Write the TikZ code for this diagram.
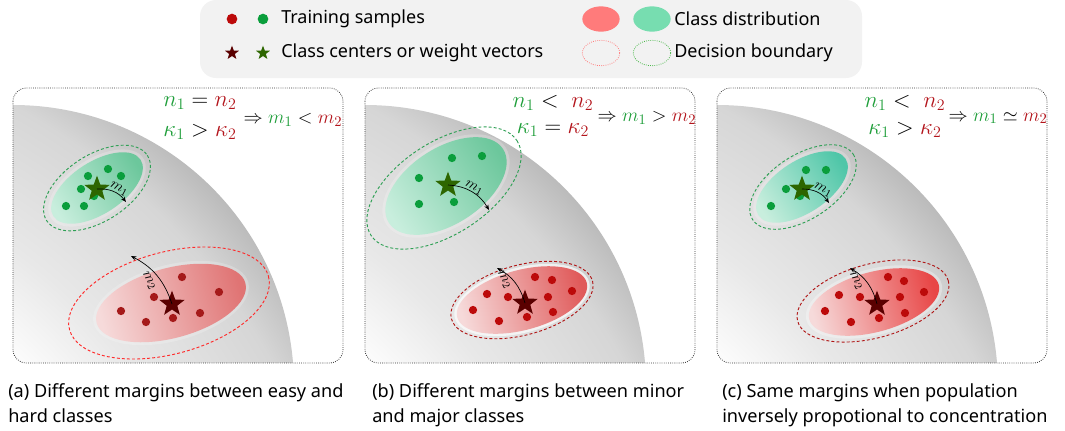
\documentclass[tikz,border=0pt]{standalone}
\usepackage{fontspec}
\setmainfont{Noto Sans}
\usetikzlibrary{shapes.geometric,arrows.meta}
\definecolor{legbg}{HTML}{F2F2F2}
\definecolor{gdot}{HTML}{0A9E3C}
\definecolor{rdot}{HTML}{BC0A0A}
\definecolor{rdota}{HTML}{A51A1A}
\definecolor{gstar}{HTML}{2D6600}
\definecolor{rstar}{HTML}{5A0000}
\definecolor{gtext}{HTML}{1F9E3A}
\definecolor{rtext}{HTML}{B3141B}
\definecolor{legred}{HTML}{FF7B7B}
\definecolor{leggreen}{HTML}{77DDB0}
\definecolor{glt}{HTML}{C8EEDD}
\definecolor{gdk}{HTML}{6CC79C}
\definecolor{gdkc}{HTML}{4FC6A8}
\definecolor{rlt}{HTML}{F6DADA}
\definecolor{rdk}{HTML}{E07474}
\definecolor{rdkb}{HTML}{E05A5A}
\definecolor{rdkc}{HTML}{E84646}
\definecolor{gbound}{HTML}{2FA055}
\definecolor{rbounda}{HTML}{FF2A2A}
\definecolor{rboundb}{HTML}{B01515}
\definecolor{gy0}{HTML}{FFFFFF}
\definecolor{gy1}{HTML}{E8E8E8}
\definecolor{gy2}{HTML}{D6D6D6}
\definecolor{gy3}{HTML}{CBCBCB}
\definecolor{gy4}{HTML}{B6B6B6}
\pgfdeclareradialshading{grayrad}{\pgfpoint{0bp}{0bp}}{color(0bp)=(gy0); color(15.2bp)=(gy0); color(18.5bp)=(gy1); color(22.7bp)=(gy2); color(23.5bp)=(gy3); color(25bp)=(gy4); color(50bp)=(gy4)}
\newcommand{\gr}[1]{{\color{gtext}#1}}
\newcommand{\rd}[1]{{\color{rtext}#1}}
\begin{document}
\begin{tikzpicture}[x=0.75pt,y=-0.75pt,
  txt/.style={font=\fontsize{13.5}{16}\selectfont, inner sep=0pt},
  captext/.style={font=\fontsize{13.6}{18.75}\selectfont, align=left, inner sep=0pt, anchor=north west},
  dot/.style={circle, fill=#1, draw=none, inner sep=0pt, minimum size=6.2pt},
  bigstar/.style={star, star points=5, star point ratio=2.4, fill=#1, draw=none, inner sep=0pt, minimum size=20pt},
  smallstar/.style={star, star points=5, star point ratio=2.4, fill=#1, draw=none, inner sep=0pt, minimum size=11pt},
  panelframe/.style={draw=black!80, densely dotted, line width=0.6pt, rounded corners=10pt},
  bound/.style={draw=#1, dash pattern=on 2.2pt off 1.6pt, line width=0.7pt},
  halo/.style={fill=white, opacity=0.2, draw=none},
  marg/.style={-{Stealth[length=4pt,width=3.2pt]}, line width=0.5pt, black},
  mlab/.style={inner sep=0pt, font=\fontsize{11}{12}\selectfont},
  bigf/.style={inner sep=0pt, font=\fontsize{18.5}{20}\selectfont},
  smf/.style={inner sep=0pt, font=\fontsize{15.8}{18}\selectfont}
]
\useasboundingbox (0,0) rectangle (1065,430);

% ---------- legend ----------
\fill[legbg, rounded corners=12pt] (200,0) rectangle (862,78);
\node[dot=rdot, minimum size=8pt] (lgr) at (232,19) {};
\node[dot=gdot, minimum size=8pt] (lgg) at (263,19) {};
\node[txt, anchor=west] (lt1) at (281,19) {Training samples};
\node[smallstar=rstar] (lsr) at (232,53) {};
\node[smallstar=gstar] (lsg) at (263,53) {};
\node[txt, anchor=west] (lt2) at (281,53) {Class centers or weight vectors};
\node[ellipse, fill=legred, draw=none, minimum width=28pt, minimum height=19pt, inner sep=0pt] (ler) at (601,19) {};
\node[ellipse, fill=leggreen, draw=none, minimum width=28pt, minimum height=19pt, inner sep=0pt] (leg) at (652,19) {};
\node[txt, anchor=west] (lt3) at (674,19) {Class distribution};
\node[ellipse, draw=red!50, densely dotted, line width=0.6pt, minimum width=28pt, minimum height=19pt, inner sep=0pt] (ldr) at (601,53) {};
\node[ellipse, draw=green!60!black!70, densely dotted, line width=0.6pt, minimum width=28pt, minimum height=19pt, inner sep=0pt] (ldg) at (652,53) {};
\node[txt, anchor=west] (lt4) at (674,53) {Decision boundary};

% ---------- gray backgrounds and frames ----------
\foreach \px in {13,365,717}{
  \begin{scope}
    \clip[rounded corners=10pt] (\px,88) rectangle ++(330,275);
    \clip (\px,363) -- (\px,105) arc[start angle=-90, end angle=-4.7, radius=281] -- cycle;
    \shade[shading=grayrad] ({\px-313},680) circle[radius=720];
  \end{scope}
  \draw[panelframe] (\px,88) rectangle ++(330,275);
}

% ---------- panel (a) ----------
\fill[halo, rotate around={33:(97,188)}] (97,188) ellipse[x radius=55, y radius=29];
\shade[top color=gdk, bottom color=glt, shading angle=-57, rotate around={33:(97,188)}] (97,188) ellipse[x radius=52, y radius=26];
\draw[bound=gbound, rotate around={33:(97,188)}] (97,188) ellipse[x radius=60, y radius=33];
\fill[halo, rotate around={15:(171,303)}] (171,303) ellipse[x radius=80, y radius=38];
\shade[top color=rdk, bottom color=rlt, shading angle=-75, rotate around={15:(171,303)}] (171,303) ellipse[x radius=77, y radius=35];
\draw[bound=rbounda, rotate around={15:(169,303)}] (169,303) ellipse[x radius=103, y radius=51];
\foreach \x/\y [count=\i] in {88/176,108/169,121/176,81/189,94/196,66/206,84/206}
  \node[dot=gdot] (ag\i) at (\x,\y) {};
\foreach \x/\y [count=\i] in {182/277,219/292,154/297,121/311,146/322,173/318,200/313}
  \node[dot=rdota] (ar\i) at (\x,\y) {};
\node[bigstar=gstar] (ags) at (97,189) {};
\node[bigstar=rstar] (ars) at (172,304) {};
\coordinate (am1) at (126,202);
\coordinate (am2) at (131,256);
\draw[marg] (ags.center) to[bend left=28] (am1);
\draw[marg] (ars.center) to[bend right=22] (am2);
\node[mlab, rotate=-28] (am1l) at (119,189) {$m_1$};
\node[mlab, rotate=-62] (am2l) at (149,281) {$m_2$};
\node[bigf] (afa) at (200,103) {$\gr{n_1} = \rd{n_2}$};
\node[bigf] (afb) at (200,132) {$\gr{\kappa_1} > \rd{\kappa_2}$};
\node[smf] (afc) at (293,120) {$\Rightarrow \gr{m_1} < \rd{m_2}$};

% ---------- panel (b) ----------
\fill[halo, rotate around={33:(446,186)}] (446,186) ellipse[x radius=71, y radius=41];
\shade[top color=gdk, bottom color=glt, shading angle=-57, rotate around={33:(446,186)}] (446,186) ellipse[x radius=68, y radius=38];
\draw[bound=gbound, rotate around={33:(444,188)}] (444,188) ellipse[x radius=87, y radius=46];
\fill[halo, opacity=0.65, rotate around={15:(522,300)}] (522,300) ellipse[x radius=69.5, y radius=32.5];
\shade[top color=rdkb, bottom color=rlt, shading angle=-75, rotate around={15:(522,300)}] (522,300) ellipse[x radius=67, y radius=30];
\draw[bound=rboundb, rotate around={15:(522,300)}] (522,300) ellipse[x radius=73, y radius=35];
\foreach \x/\y [count=\i] in {452/158,482/156,419/178,419/204,454/202}
  \node[dot=gdot] (bg\i) at (\x,\y) {};
\foreach \x/\y [count=\i] in {535/277,552/280,487/294,508/297,548/297,572/291,473/310,499/321,527/317,553/312}
  \node[dot=rdot] (br\i) at (\x,\y) {};
\node[bigstar=gstar] (bgs) at (448,185) {};
\node[bigstar=rstar] (brs) at (525,303) {};
\coordinate (bm1) at (489,210);
\coordinate (bm2) at (497,268);
\draw[marg] (bgs.center) to[bend left=28] (bm1);
\draw[marg] (brs.center) to[bend right=22] (bm2);
\node[mlab, rotate=-28] (bm1l) at (474,188) {$m_1$};
\node[mlab, rotate=-62] (bm2l) at (504,280) {$m_2$};
\node[bigf] (bfa) at (553,103) {$\gr{n_1} < \;\rd{n_2}$};
\node[bigf] (bfb) at (553,130) {$\gr{\kappa_1} = \rd{\kappa_2}$};
\node[smf] (bfc) at (647,118) {$\Rightarrow \gr{m_1} > \rd{m_2}$};

% ---------- panel (c) ----------
\fill[halo, rotate around={33:(802,187)}] (802,187) ellipse[x radius=55, y radius=29];
\shade[top color=gdkc, bottom color=glt, shading angle=-57, rotate around={33:(802,187)}] (802,187) ellipse[x radius=52, y radius=26];
\draw[bound=gbound, rotate around={33:(803,187)}] (803,187) ellipse[x radius=60, y radius=32];
\fill[halo, opacity=0.3, rotate around={15:(874,302)}] (874,302) ellipse[x radius=70, y radius=33];
\shade[top color=rdkc, bottom color=rlt, shading angle=-75, rotate around={15:(874,302)}] (874,302) ellipse[x radius=67, y radius=30];
\draw[bound=rboundb, rotate around={15:(873,301)}] (873,301) ellipse[x radius=78, y radius=37];
\foreach \x/\y [count=\i] in {806/170,826/170,786/189,800/196,771/206}
  \node[dot=gdot] (cg\i) at (\x,\y) {};
\foreach \x/\y [count=\i] in {888/277,904/281,839/295,860/297,900/297,924/292,825/311,851/322,879/318,905/313}
  \node[dot=rdot] (cr\i) at (\x,\y) {};
\node[bigstar=gstar] (cgs) at (802,189) {};
\node[bigstar=rstar] (crs) at (877,304) {};
\coordinate (cm1) at (829,203);
\coordinate (cm2) at (850,268);
\draw[marg] (cgs.center) to[bend left=28] (cm1);
\draw[marg] (crs.center) to[bend right=22] (cm2);
\node[mlab, rotate=-28] (cm1l) at (823,190) {$m_1$};
\node[mlab, rotate=-62] (cm2l) at (856,281) {$m_2$};
\node[bigf] (cfa) at (905,103) {$\gr{n_1} < \;\rd{n_2}$};
\node[bigf] (cfb) at (905,130) {$\gr{\kappa_1} > \rd{\kappa_2}$};
\node[smf] (cfc) at (998,118) {$\Rightarrow \gr{m_1} \simeq \rd{m_2}$};

% ---------- captions ----------
\node[captext] (capa) at (8,383) {(a) Different margins between easy and\\hard classes};
\node[captext] (capb) at (372,383) {(b) Different margins between minor\\and major classes};
\node[captext] (capc) at (722,383) {(c) Same margins when population\\inversely propotional to concentration};
\end{tikzpicture}
\end{document}
